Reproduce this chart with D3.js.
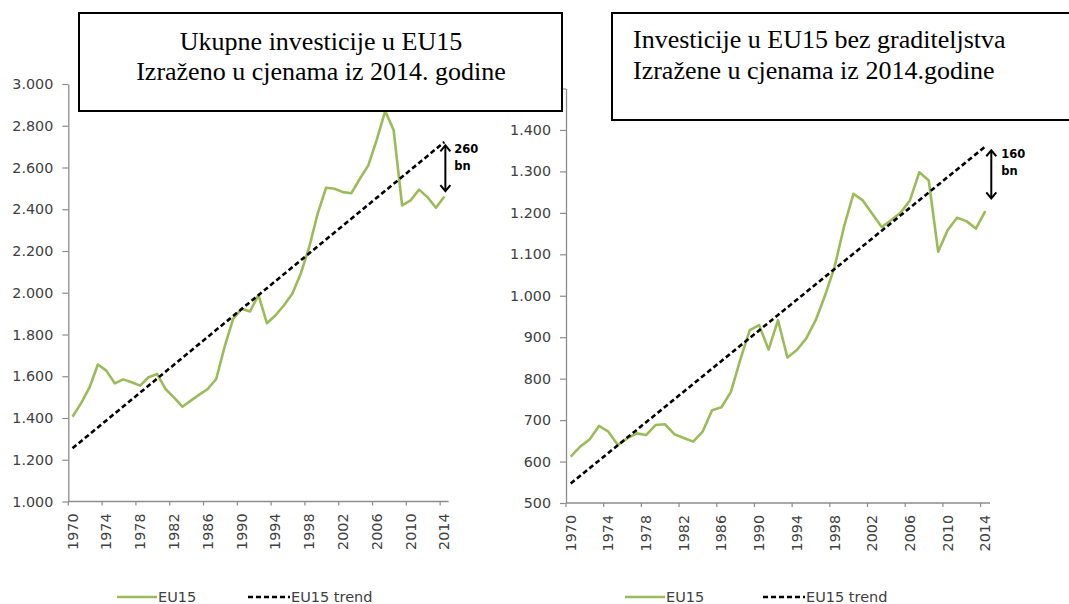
<!DOCTYPE html>
<html><head><meta charset="utf-8">
<script src="https://cdn.jsdelivr.net/npm/d3@7"></script>
<style>body{margin:0;background:#fff} svg{display:block}</style>
</head><body>
<svg id="c" width="1069" height="604"></svg>
<script>
// ---------- data ----------
const years = [1970,1971,1972,1973,1974,1975,1976,1977,1978,1979,1980,1981,1982,1983,1984,1985,1986,1987,1988,1989,
  1990,1991,1992,1993,1994,1995,1996,1997,1998,1999,2000,2001,2002,2003,2004,2005,2006,2007,2008,2009,2010,2011,2012,2013,2014];
const tickYears = [1970,1974,1978,1982,1986,1990,1994,1998,2002,2006,2010,2014];

const totalInvestment = [1406,1470,1545,1656,1627,1566,1585,1571,1555,1595,1611,1539,1499,1454,1483,1512,1539,1587,1742,1875,
  1923,1910,1990,1854,1891,1939,1995,2091,2218,2378,2503,2498,2482,2477,2546,2610,2733,2870,2778,2418,2442,2494,2458,2407,2461];
const totalTrend = [[1970,1255],[2014,2722]];

const nonConstructionInvestment = [612,636,653,686,672,640,656,668,664,688,690,666,657,648,672,724,731,768,846,917,
  929,870,941,851,869,897,941,1001,1069,1166,1246,1230,1198,1166,1182,1200,1230,1298,1278,1106,1158,1188,1180,1162,1204];
const nonConstructionTrend = [[1970,547],[2014,1360]];

const leftYTicks = [1000,1200,1400,1600,1800,2000,2200,2400,2600,2800,3000];
const rightYTicks = [500,600,700,800,900,1000,1100,1200,1300,1400,1500];

const leftTitle = ["Ukupne investicije u EU15","Izraženo u cjenama iz 2014. godine"];
const rightTitle = ["Investicije u EU15 bez graditeljstva","Izražene u cjenama iz 2014.godine"];

const leftGap = [2706,2487];
const rightGap = [1351,1235];
const leftGapLabel = ["260","bn"];
const rightGapLabel = ["160","bn"];
const legendLabels = ["EU15","EU15 trend"];

// ---------- styles ----------
const GREEN = "#9bbb59";
const AXIS = "#8c8c8c";
const LABEL = "#404040";
const FONT = "'DejaVu Sans', Verdana, sans-serif";

const locale = d3.formatLocale({decimal:",", thousands:".", grouping:[3], currency:["","€"]});
const fmt = locale.format(",d");

const svg = d3.select("#c");

function panel(cfg){
  const g = svg.append("g");
  const x = d3.scaleBand().domain(years).range(cfg.xRange).paddingInner(0).paddingOuter(0);
  const bw = x.bandwidth();
  const cx = d => x(d) + bw/2;
  const y = d3.scaleLinear().domain(cfg.yDomain).range(cfg.yRange);
  const y0 = cfg.yRange[0];

  // y axis
  const ya = d3.axisLeft(y).tickValues(cfg.yTicks).tickSize(6).tickSizeOuter(0).tickPadding(9).tickFormat(fmt);
  const yg = g.append("g").attr("transform",`translate(${cfg.xRange[0]},0)`).call(ya);
  yg.select(".domain").attr("stroke",AXIS).attr("stroke-width",1.3);
  yg.selectAll(".tick line").attr("stroke",AXIS).attr("stroke-width",1.2);
  yg.selectAll(".tick text").attr("fill",LABEL).style("font-family",FONT).style("font-size","14.3px");

  // x axis
  g.append("line").attr("x1",cfg.xRange[0]).attr("x2",cfg.xRange[1]).attr("y1",y0).attr("y2",y0)
    .attr("stroke",AXIS).attr("stroke-width",1.3);
  g.selectAll(".xt").data(tickYears).enter().append("line")
    .attr("x1",d=>x(d)).attr("x2",d=>x(d)).attr("y1",y0).attr("y2",y0+4)
    .attr("stroke",AXIS).attr("stroke-width",1.2);
  g.selectAll(".xl").data(tickYears).enter().append("text")
    .attr("transform",d=>`translate(${cx(d)+5},${y0+12}) rotate(-90)`)
    .attr("text-anchor","end")
    .attr("fill",LABEL).style("font-family",FONT).style("font-size","14.3px")
    .text(d=>d);

  // series
  const line = d3.line().x((d,i)=>cx(years[i])).y(d=>y(d));
  g.append("path").datum(cfg.values).attr("d",line)
    .attr("fill","none").attr("stroke",GREEN).attr("stroke-width",2.6).attr("stroke-linejoin","round");
  const tline = d3.line().x(d=>cx(d[0])).y(d=>y(d[1]));
  g.append("path").datum(cfg.trend).attr("d",tline)
    .attr("fill","none").attr("stroke","#000").attr("stroke-width",2.6).attr("stroke-dasharray","5,3");

  // gap arrow
  const ax = cx(years[years.length-1]) + cfg.arrowDx;
  const ya1 = y(cfg.gap[0]), ya2 = y(cfg.gap[1]);
  const ag = g.append("g").attr("stroke","#000").attr("stroke-width",2).attr("fill","none");
  ag.append("line").attr("x1",ax).attr("x2",ax).attr("y1",ya1+1).attr("y2",ya2-1);
  ag.append("path").attr("d",`M${ax-5},${ya1+6}L${ax},${ya1}L${ax+5},${ya1+6}`);
  ag.append("path").attr("d",`M${ax-5},${ya2-6}L${ax},${ya2}L${ax+5},${ya2-6}`);
  g.selectAll(".gl").data(cfg.gapLabel).enter().append("text")
    .attr("x",ax+cfg.labelDx).attr("y",(d,i)=>ya1+8+i*17)
    .style("font-family",FONT).style("font-size","11.5px").style("font-weight","bold").attr("fill","#000")
    .text(d=>d);

  // legend
  const ly = 597;
  const lg = g.append("g");
  lg.append("line").attr("x1",cfg.legendX[0]).attr("x2",cfg.legendX[0]+40).attr("y1",ly).attr("y2",ly)
    .attr("stroke",GREEN).attr("stroke-width",2.6);
  lg.append("text").attr("x",cfg.legendX[0]+41).attr("y",ly+5).text(legendLabels[0])
    .attr("fill",LABEL).style("font-family",FONT).style("font-size","14.5px");
  lg.append("line").attr("x1",cfg.legendX[1]).attr("x2",cfg.legendX[1]+42).attr("y1",ly).attr("y2",ly)
    .attr("stroke","#000").attr("stroke-width",2.6).attr("stroke-dasharray","5,3");
  lg.append("text").attr("x",cfg.legendX[1]+43).attr("y",ly+5).text(legendLabels[1])
    .attr("fill",LABEL).style("font-family",FONT).style("font-size","14.5px");
}

panel({xRange:[68.3,448.6], yDomain:[1000,3000], yRange:[501.5,84], yTicks:leftYTicks,
  values:totalInvestment, trend:totalTrend, gap:leftGap, gapLabel:leftGapLabel, arrowDx:1, labelDx:9,
  legendX:[117,248]});
panel({xRange:[566,990], yDomain:[500,1500], yRange:[503,88.5], yTicks:rightYTicks,
  values:nonConstructionInvestment, trend:nonConstructionTrend, gap:rightGap, gapLabel:rightGapLabel, arrowDx:6, labelDx:10,
  legendX:[625,763]});

// title boxes
function titleBox(bx,by,bw,bh,lines,tx,anchor,baselines){
  svg.append("rect").attr("x",bx).attr("y",by).attr("width",bw).attr("height",bh)
    .attr("fill","#fff").attr("stroke","#000").attr("stroke-width",2);
  svg.selectAll(null).data(lines).enter().append("text")
    .attr("x",tx).attr("y",(d,i)=>baselines[i]).attr("text-anchor",anchor)
    .style("font-family","'Liberation Serif','Times New Roman',serif").style("font-size","26px").attr("fill","#000")
    .text(d=>d);
}
titleBox(79,13,483,98,leftTitle,321,"middle",[50,80]);
titleBox(612,13,470,107,rightTitle,633,"start",[48,79]);
</script>
</body></html>
